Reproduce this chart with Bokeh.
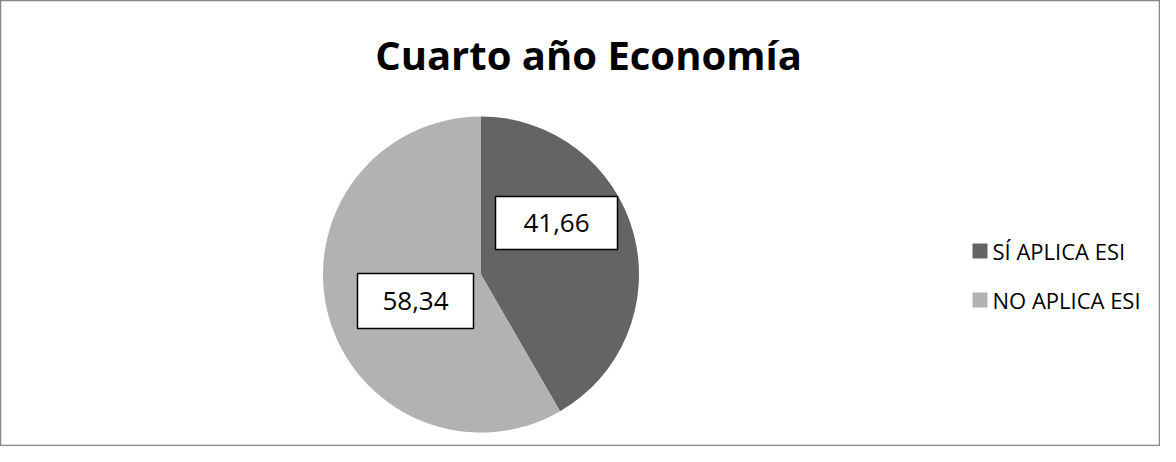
import numpy as np
from bokeh.plotting import figure
from bokeh.models import Range1d, ColumnDataSource
from bokeh.core.properties import value
from bokeh.embed import file_html
from bokeh.resources import INLINE

title = "Cuarto año Economía"
categories = ["SÍ APLICA ESI", "NO APLICA ESI"]
values = [41.66, 58.34]
labels = ["41,66", "58,34"]
colors = ["#646464", "#b2b2b2"]

W, H = 1160, 446
p = figure(width=W, height=H, output_backend="svg", toolbar_location=None,
           x_range=Range1d(0, W), y_range=Range1d(0, H), min_border=0,
           outline_line_color="#878787", outline_line_width=1.5,
           background_fill_color="white", border_fill_color="white")
p.axis.visible = False
p.grid.visible = False

def px(x):  # reference x -> fig x
    return x
def py(y):  # reference y (down) -> fig y (up)
    return H - y

cx, cy, r = px(480.5), py(274), 158
fr = np.array(values) / sum(values)
cum = np.concatenate([[0], np.cumsum(fr)])
start = np.pi / 2 - cum[1:] * 2 * np.pi
end = np.pi / 2 - cum[:-1] * 2 * np.pi
src = ColumnDataSource(dict(start=start, end=end, color=colors, cat=categories))
p.wedge(x=cx, y=cy, radius=r, start_angle="start", end_angle="end",
        fill_color="color", line_color=None, source=src)

# data labels (boxes)
box_x = [px(556), px(415)]
box_y = [py(222.5), py(300.5)]
box_w = [122, 116]
box_h = [53, 55]
p.rect(x=box_x, y=box_y, width=box_w, height=box_h, fill_color="white",
       line_color="black", line_width=1.5)
p.text(x=box_x, y=box_y, text=labels, text_align="center", text_baseline="middle",
       text_font=value("Open Sans"), text_font_size="26px", text_color="black")

# title
p.text(x=[px(588)], y=[py(54)], text=[title], text_align="center", text_baseline="middle",
       text_font=value("Open Sans"), text_font_style="bold", text_font_size="40px",
       text_color="black")

# legend
leg_y = [py(250.5), py(299.5)]
p.rect(x=[px(979.5)] * 2, y=leg_y, width=15, height=15, fill_color=colors, line_color=None)
p.text(x=[px(992)] * 2, y=leg_y, text=categories, text_align="left", text_baseline="middle",
       text_font=value("Open Sans"), text_font_size="22px", text_color="black")

open("out.html", "w").write(file_html(p, INLINE))
